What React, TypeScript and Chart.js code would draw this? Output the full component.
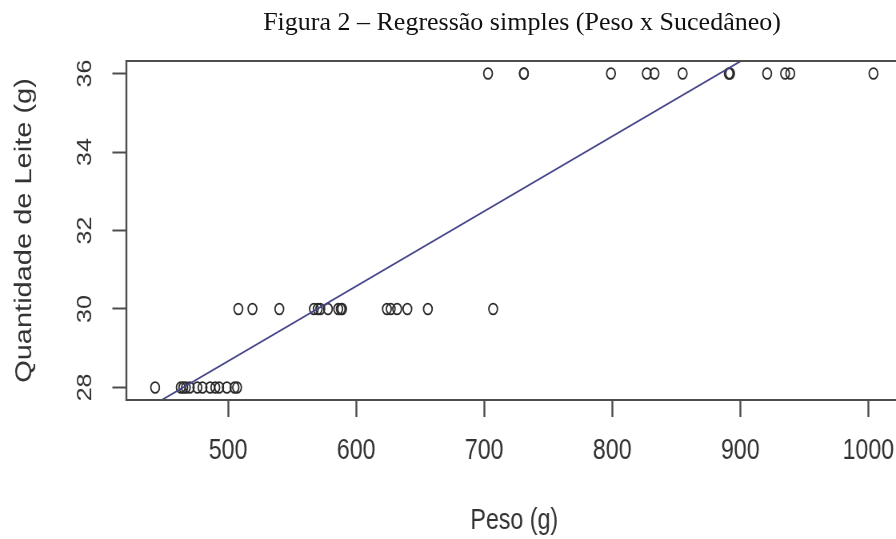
import React, { useEffect, useRef } from "react";
import { Chart, registerables } from "chart.js";

Chart.register(...registerables);

// ---- text ----
const TITLE = "Figura 2 – Regressão simples (Peso x Sucedâneo)";
const X_LABEL = "Peso (g)";
const Y_LABEL = "Quantidade de Leite (g)";

// ---- ticks ----
const X_TICKS = [500, 600, 700, 800, 900, 1000];
const Y_TICKS = [28, 30, 32, 34, 36];

// ---- data: Peso (g) of each observation, grouped by Quantidade de Leite (g) ----
const LEITE_A = 28;
const PESO_A = [443, 463, 465, 467, 470, 476, 480, 486, 490, 493, 499, 505, 507];
const LEITE_B = 30;
const PESO_B = [508, 519, 540, 567, 570, 572, 578, 586, 588, 589, 624, 627, 632, 640, 656, 707];
const LEITE_C = 36;
const PESO_C = [703, 731, 731, 799, 827, 833, 855, 891, 892, 921, 935, 939, 1004];

// ---- fitted simple regression ----
const REG_INTERCEPT = 19.12;
const REG_SLOPE = 0.0191;

// ---- styling ----
const SQUEEZE = 0.8; // the original picture is horizontally compressed
const CANVAS_W = 1135;
const CANVAS_H = 539;
const AXIS_FONT = "Liberation Sans";
const AXIS_SIZE = 29;
const Y_TICK_SIZE = 25;
const TEXT_COLOR = "#333333";
const FRAME_COLOR = "#4d4d4d";

export default function App() {
  const ref = useRef<HTMLCanvasElement | null>(null);

  useEffect(() => {
    if (!ref.current) return;
    const points = [
      ...PESO_A.map((x) => ({ x, y: LEITE_A })),
      ...PESO_B.map((x) => ({ x, y: LEITE_B })),
      ...PESO_C.map((x) => ({ x, y: LEITE_C })),
    ];
    const xs = points.map((p) => p.x);
    const ys = points.map((p) => p.y);
    const xMinD = Math.min(...xs), xMaxD = Math.max(...xs);
    const yMinD = Math.min(...ys), yMaxD = Math.max(...ys);
    // R-style 4% axis extension
    const xMin = xMinD - 0.04 * (xMaxD - xMinD);
    const xMax = xMaxD + 0.04 * (xMaxD - xMinD);
    const yMin = yMinD - 0.04 * (yMaxD - yMinD);
    const yMax = yMaxD + 0.04 * (yMaxD - yMinD);
    const regLine = [xMin, xMax].map((x) => ({ x, y: REG_INTERCEPT + REG_SLOPE * x }));

    const framePlugin = {
      id: "frameAndYLabels",
      afterDraw(chart: any) {
        const { ctx, chartArea: a, scales } = chart;
        ctx.save();
        ctx.strokeStyle = FRAME_COLOR;
        ctx.lineWidth = 2;
        ctx.beginPath();
        ctx.moveTo(a.left, a.top);
        ctx.lineTo(a.right, a.top);
        ctx.moveTo(a.left, a.bottom);
        ctx.lineTo(a.right, a.bottom);
        ctx.stroke();
        ctx.lineWidth = 2.4;
        ctx.beginPath();
        ctx.moveTo(a.left, a.top - 1);
        ctx.lineTo(a.left, a.bottom + 1);
        ctx.moveTo(a.right, a.top - 1);
        ctx.lineTo(a.right, a.bottom + 1);
        ctx.stroke();

        const yScale = scales.y;
        ctx.fillStyle = TEXT_COLOR;
        ctx.font = `${Y_TICK_SIZE}px '${AXIS_FONT}'`;
        ctx.textAlign = "center";
        ctx.textBaseline = "middle";
        for (const v of Y_TICKS) {
          const py = yScale.getPixelForValue(v);
          ctx.save();
          ctx.translate(a.left - 50.5, py);
          ctx.rotate(-Math.PI / 2);
          ctx.fillText(String(v), 0, 0);
          ctx.restore();
        }
        ctx.restore();
      },
    };

    const chart = new Chart(ref.current, {
      type: "scatter",
      data: {
        datasets: [
          {
            label: "Regressão",
            data: regLine,
            showLine: true,
            borderColor: "#45458a",
            borderWidth: 1.8,
            pointRadius: 0,
            fill: false,
          },
          {
            label: "Observações",
            data: points,
            showLine: false,
            pointStyle: "circle",
            pointRadius: 5.4,
            pointBorderWidth: 1.8,
            pointBorderColor: "#2b2b2b",
            pointBackgroundColor: "rgba(0,0,0,0)",
          },
        ],
      },
      plugins: [framePlugin],
      options: {
        responsive: false,
        devicePixelRatio: 1,
        animation: false,
        events: [],
        layout: { padding: { left: 13.6, right: 5, top: 61, bottom: 1 } },
        plugins: {
          legend: { display: false },
          tooltip: { enabled: false },
          title: { display: false },
        },
        scales: {
          x: {
            type: "linear",
            position: "bottom",
            min: xMin,
            max: xMax,
            afterBuildTicks: (s: any) => {
              s.ticks = X_TICKS.map((v) => ({ value: v }));
            },
            afterFit: (s: any) => {
              s.height = 138;
            },
            border: { display: false },
            grid: {
              display: true,
              drawOnChartArea: false,
              drawTicks: true,
              tickLength: 17,
              tickColor: FRAME_COLOR,
              tickWidth: 2.4,
            },
            ticks: {
              autoSkip: false,
              maxRotation: 0,
              minRotation: 0,
              padding: 17,
              color: TEXT_COLOR,
              font: { family: AXIS_FONT, size: AXIS_SIZE },
              callback: (v: any) => String(v),
            },
            title: {
              display: true,
              text: X_LABEL,
              color: TEXT_COLOR,
              padding: 0,
              font: { family: AXIS_FONT, size: AXIS_SIZE },
            },
          },
          y: {
            type: "linear",
            position: "left",
            min: yMin,
            max: yMax,
            afterBuildTicks: (s: any) => {
              s.ticks = Y_TICKS.map((v) => ({ value: v }));
            },
            afterFit: (s: any) => {
              s.width = 144.4;
            },
            border: { display: false },
            grid: {
              display: true,
              drawOnChartArea: false,
              drawTicks: true,
              tickLength: 17.5,
              tickColor: FRAME_COLOR,
              tickWidth: 2,
            },
            ticks: { display: false },
            title: {
              display: true,
              text: Y_LABEL,
              color: TEXT_COLOR,
              padding: 0,
              font: { family: AXIS_FONT, size: AXIS_SIZE },
            },
          },
        },
      },
    } as any);

    return () => chart.destroy();
  }, []);

  return (
    <div
      style={{
        position: "fixed",
        left: 0,
        top: 0,
        width: 896,
        height: 539,
        overflow: "hidden",
        background: "#ffffff",
      }}
    >
      <canvas
        ref={ref}
        width={CANVAS_W}
        height={CANVAS_H}
        style={{
          position: "absolute",
          left: 0,
          top: 0,
          width: CANVAS_W,
          height: CANVAS_H,
          transform: `scaleX(${SQUEEZE})`,
          transformOrigin: "0 0",
          display: "block",
        }}
      />
      <div
        style={{
          position: "absolute",
          left: 0,
          top: 7,
          width: 1044,
          textAlign: "center",
          fontFamily: "'Liberation Serif', serif",
          fontSize: 26,
          lineHeight: "30px",
          color: "#111111",
          whiteSpace: "nowrap",
        }}
      >
        {TITLE}
      </div>
    </div>
  );
}
